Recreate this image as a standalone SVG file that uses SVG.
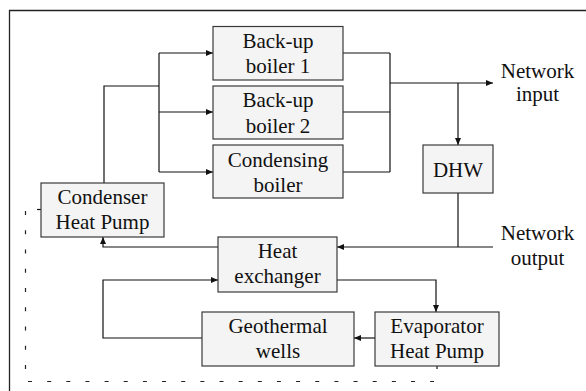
<svg xmlns="http://www.w3.org/2000/svg" width="586" height="391" viewBox="0 0 586 391">
<style>
.box{fill:#f4f4f4;stroke:#3a3a3a;stroke-width:1.2}
.t{font-size:21px;fill:#111;text-anchor:middle}
.ln{fill:none;stroke:#111;stroke-width:1.2}
.dash{fill:none;stroke:#222;stroke-width:1.2}
</style>
<defs>
<marker id="ah" markerUnits="userSpaceOnUse" markerWidth="8" markerHeight="6" refX="7" refY="3" orient="auto">
<path d="M0,0 L7,3 L0,6 Z" fill="#111"/>
</marker>
</defs>
<rect width="586" height="391" fill="#fff"/>
<path d="M9.5 400 V10.5 H590" fill="none" stroke="#222" stroke-width="1.3"/>
<g id="dashes">
<path class="dash" d="M25.5 211 V370" stroke-dasharray="4 15.25"/>
<path class="dash" d="M28 381.5 H434" stroke-dasharray="4 15.15"/>
<path class="ln" d="M37 209.5 H41"/>
<path class="ln" d="M437 366 V369"/>
</g>
<g id="connectors">
<path class="ln" d="M104 183 V86 H159"/>
<path class="ln" d="M159 53 V172"/>
<path class="ln" d="M159 53 H213" marker-end="url(#ah)"/>
<path class="ln" d="M159 112 H213" marker-end="url(#ah)"/>
<path class="ln" d="M159 172 H213" marker-end="url(#ah)"/>
<path class="ln" d="M343 53 H390 M343 112 H390 M343 172 H390 M390 53 V172"/>
<path class="ln" d="M390 83 H493" marker-end="url(#ah)"/>
<path class="ln" d="M458 83 V145" marker-end="url(#ah)"/>
<path class="ln" d="M458 193 V247"/>
<path class="ln" d="M493 247 H337" marker-end="url(#ah)"/>
<path class="ln" d="M218 247 H103 V237" marker-end="url(#ah)"/>
<path class="ln" d="M202 338 H103 V280 H218" marker-end="url(#ah)"/>
<path class="ln" d="M337 280 H436 V312" marker-end="url(#ah)"/>
<path class="ln" d="M375 338 H354" marker-end="url(#ah)"/>
</g>
<g font-family="'Liberation Serif', 'Times New Roman', 'DejaVu Serif', serif">
<g id="backup1"><rect class="box" x="213" y="26.5" width="130" height="53.5"/><text class="t" x="278" y="48">Back-up</text><text class="t" x="278" y="73">boiler 1</text></g>
<g id="backup2"><rect class="box" x="213" y="86" width="130" height="53"/><text class="t" x="278" y="107">Back-up</text><text class="t" x="278" y="133">boiler 2</text></g>
<g id="condensing"><rect class="box" x="213" y="145" width="130" height="53"/><text class="t" x="278" y="167">Condensing</text><text class="t" x="278" y="192">boiler</text></g>
<g id="dhw"><rect class="box" x="423" y="145" width="70" height="48"/><text class="t" x="458" y="177">DHW</text></g>
<g id="condenserhp"><rect class="box" x="41" y="183" width="123" height="54"/><text class="t" x="102.5" y="204">Condenser</text><text class="t" x="102.5" y="229">Heat Pump</text></g>
<g id="heatexchanger"><rect class="box" x="218" y="237" width="119" height="55"/><text class="t" x="277.5" y="258">Heat</text><text class="t" x="277.5" y="283">exchanger</text></g>
<g id="geothermal"><rect class="box" x="202" y="312" width="152" height="54"/><text class="t" x="278" y="333">Geothermal</text><text class="t" x="278" y="358">wells</text></g>
<g id="evaporatorhp"><rect class="box" x="375" y="312" width="124" height="54"/><text class="t" x="437" y="333">Evaporator</text><text class="t" x="437" y="358">Heat Pump</text></g>
<g id="netinput"><text class="t" x="537.5" y="78">Network</text><text class="t" x="537.5" y="101">input</text></g>
<g id="netoutput"><text class="t" x="537.5" y="240">Network</text><text class="t" x="537.5" y="265">output</text></g>
</g>
</svg>
